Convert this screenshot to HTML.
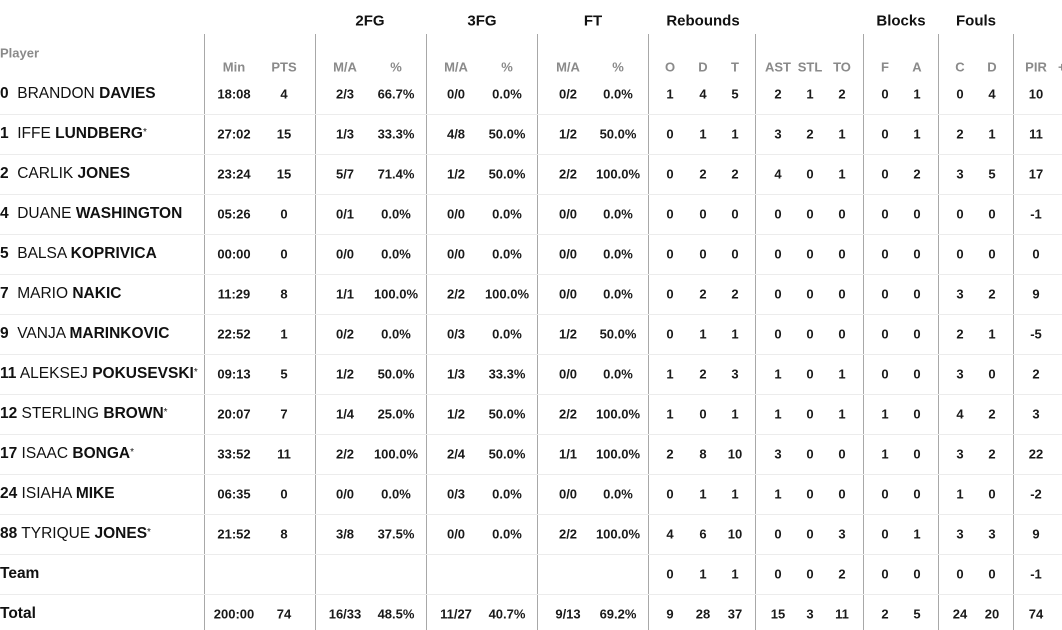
<!DOCTYPE html>
<html><head><meta charset="utf-8">
<style>
html,body{margin:0;padding:0;background:#fff;}
body{width:1062px;height:630px;position:relative;overflow:hidden;font-family:"Liberation Sans",sans-serif;color:#1a1a1a;}
.t{position:absolute;transform:translate(-50%,-50%);white-space:nowrap;font-size:13px;font-weight:bold;}
.h{color:#8a8a8a;font-size:13px;font-weight:bold;}
.g{font-size:15px;font-weight:bold;color:#111;}
.n{position:absolute;left:0;transform:translateY(-50%);white-space:nowrap;font-size:15.5px;color:#111;}
.n b{font-weight:bold;}
.n sup{font-size:10px;vertical-align:3px;}
.v{position:absolute;top:34px;bottom:0;width:1px;background:#a8a8a8;}
.r{position:absolute;left:0;right:0;height:1px;background:#ececec;}
</style></head><body>
<div id="c"></div>
<script>
var c=document.getElementById('c'),h='';
[204,315,426,537,648,755,863,938,1013].forEach(function(x){h+='<div class="v" style="left:'+x+'px"></div>';});
for(var i=1;i<=13;i++){h+='<div class="r" style="top:'+(74+40*i)+'px"></div>';}
function T(x,y,s,cl){h+='<div class="t '+(cl||'')+'" style="left:'+x+'px;top:'+y+'px">'+s+'</div>';}
[[370,'2FG'],[482,'3FG'],[593,'FT'],[703,'Rebounds'],[901,'Blocks'],[976,'Fouls']].forEach(function(a){T(a[0],21,a[1],'g');});
h+='<div class="n h" style="top:53px;font-size:13px;color:#8a8a8a;font-weight:bold">Player</div>';
var X=[234,284,345,396,456,507,568,618,670,703,735,778,810,842,885,917,960,992,1036];
var H=['Min','PTS','M/A','%','M/A','%','M/A','%','O','D','T','AST','STL','TO','F','A','C','D','PIR'];
H.forEach(function(s,i){T(X[i],67,s,'h');});
h+='<div class="t h" style="left:1058px;top:67px;transform:translateY(-50%)">+/-</div>';
var R=[
['<b>0</b> &nbsp;BRANDON <b>DAVIES</b>','18:08 4 2/3 66.7% 0/0 0.0% 0/2 0.0% 1 4 5 2 1 2 0 1 0 4 10'],
['<b>1</b> &nbsp;IFFE <b>LUNDBERG</b><sup>*</sup>','27:02 15 1/3 33.3% 4/8 50.0% 1/2 50.0% 0 1 1 3 2 1 0 1 2 1 11'],
['<b>2</b> &nbsp;CARLIK <b>JONES</b>','23:24 15 5/7 71.4% 1/2 50.0% 2/2 100.0% 0 2 2 4 0 1 0 2 3 5 17'],
['<b>4</b> &nbsp;DUANE <b>WASHINGTON</b>','05:26 0 0/1 0.0% 0/0 0.0% 0/0 0.0% 0 0 0 0 0 0 0 0 0 0 -1'],
['<b>5</b> &nbsp;BALSA <b>KOPRIVICA</b>','00:00 0 0/0 0.0% 0/0 0.0% 0/0 0.0% 0 0 0 0 0 0 0 0 0 0 0'],
['<b>7</b> &nbsp;MARIO <b>NAKIC</b>','11:29 8 1/1 100.0% 2/2 100.0% 0/0 0.0% 0 2 2 0 0 0 0 0 3 2 9'],
['<b>9</b> &nbsp;VANJA <b>MARINKOVIC</b>','22:52 1 0/2 0.0% 0/3 0.0% 1/2 50.0% 0 1 1 0 0 0 0 0 2 1 -5'],
['<b>11</b> ALEKSEJ <b>POKUSEVSKI</b><sup>*</sup>','09:13 5 1/2 50.0% 1/3 33.3% 0/0 0.0% 1 2 3 1 0 1 0 0 3 0 2'],
['<b>12</b> STERLING <b>BROWN</b><sup>*</sup>','20:07 7 1/4 25.0% 1/2 50.0% 2/2 100.0% 1 0 1 1 0 1 1 0 4 2 3'],
['<b>17</b> ISAAC <b>BONGA</b><sup>*</sup>','33:52 11 2/2 100.0% 2/4 50.0% 1/1 100.0% 2 8 10 3 0 0 1 0 3 2 22'],
['<b>24</b> ISIAHA <b>MIKE</b>','06:35 0 0/0 0.0% 0/3 0.0% 0/0 0.0% 0 1 1 1 0 0 0 0 1 0 -2'],
['<b>88</b> TYRIQUE <b>JONES</b><sup>*</sup>','21:52 8 3/8 37.5% 0/0 0.0% 2/2 100.0% 4 6 10 0 0 3 0 1 3 3 9'],
['<b>Team</b>','_ _ _ _ _ _ _ _ 0 1 1 0 0 2 0 0 0 0 -1'],
['<b>Total</b>','200:00 74 16/33 48.5% 11/27 40.7% 9/13 69.2% 9 28 37 15 3 11 2 5 24 20 74']
];
R.forEach(function(r,i){var y=94+40*i;
h+='<div class="n" style="top:'+y+'px">'+r[0]+'</div>';
r[1].split(' ').forEach(function(s,j){if(s!='_')T(X[j],y,s);});});
c.innerHTML=h;
</script>
</body></html>
